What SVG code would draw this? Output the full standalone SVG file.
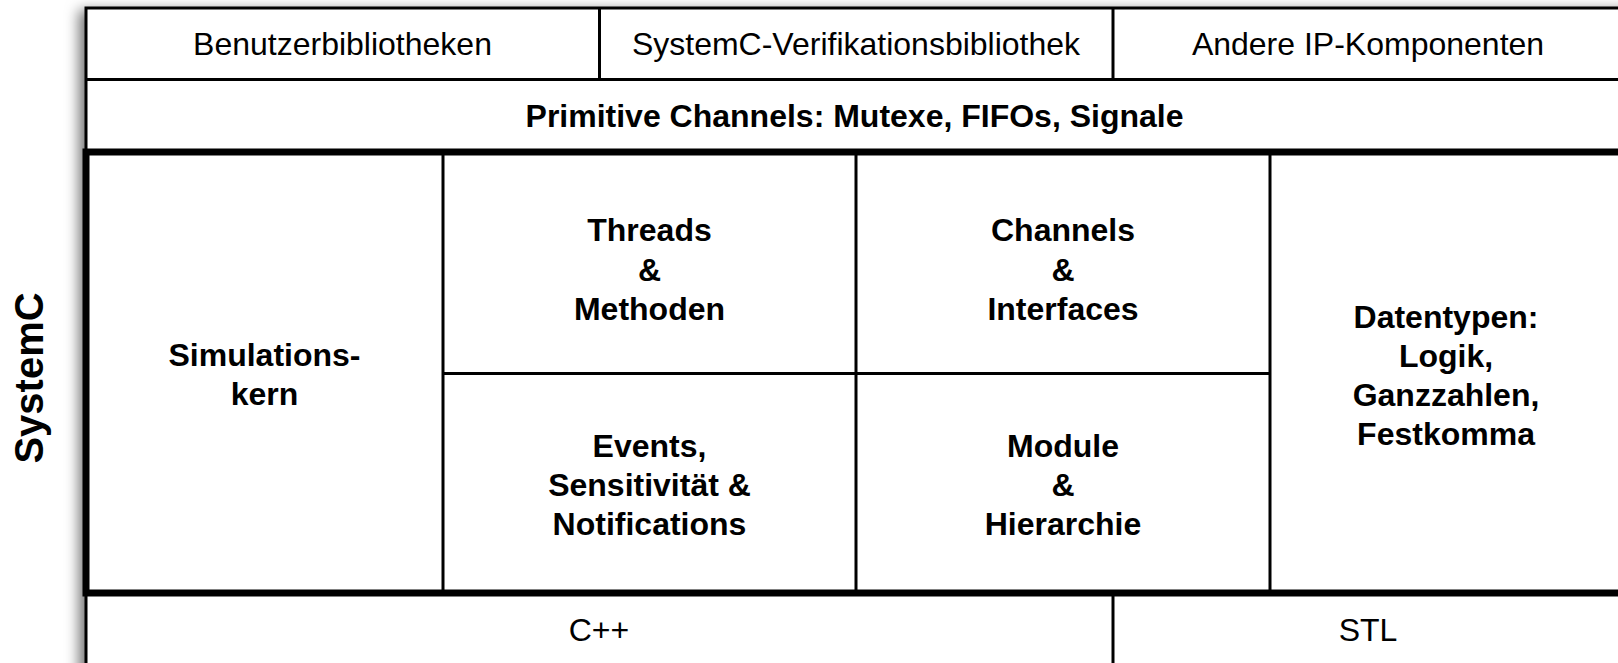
<svg xmlns="http://www.w3.org/2000/svg" width="1618" height="663" viewBox="0 0 1618 663">
<style>
.t{font-family:"Liberation Sans",Arial,sans-serif;font-size:32px;fill:#000;text-anchor:middle}
.b{font-weight:bold}
.thin{stroke:#000;stroke-width:3;fill:none}
.thick{stroke:#000;stroke-width:7;fill:none}
</style>
<defs>
<filter id="sh" x="-10%" y="-10%" width="120%" height="120%">
<feDropShadow dx="-7" dy="2" stdDeviation="7" flood-color="#000" flood-opacity="0.55"/>
</filter>
</defs>
<rect width="1618" height="663" fill="#fff"/>
<rect x="86" y="8" width="1560" height="680" fill="#fff" filter="url(#sh)"/>
<g id="connectors">
<rect class="thin" x="86" y="8" width="1560" height="680"/>
<line class="thin" x1="86" y1="79.5" x2="1640" y2="79.5"/>
<line class="thin" x1="599.5" y1="8" x2="599.5" y2="79.5"/>
<line class="thin" x1="1113" y1="8" x2="1113" y2="79.5"/>
<line class="thin" x1="443" y1="152" x2="443" y2="593"/>
<line class="thin" x1="856" y1="152" x2="856" y2="593"/>
<line class="thin" x1="1270" y1="152" x2="1270" y2="593"/>
<line class="thin" x1="443" y1="373.5" x2="1270" y2="373.5"/>
<line class="thin" x1="1113" y1="593" x2="1113" y2="670"/>
<rect class="thick" x="86" y="152" width="1560" height="441"/>
</g>
<g id="n-benutzer"><text class="t" x="342.5" y="55">Benutzerbibliotheken</text></g>
<g id="n-verif"><text class="t" x="856" y="55">SystemC-Verifikationsbibliothek</text></g>
<g id="n-ip"><text class="t" x="1368" y="55">Andere IP-Komponenten</text></g>
<g id="n-primitive"><text class="t b" x="854.5" y="127">Primitive Channels: Mutexe, FIFOs, Signale</text></g>
<g id="n-kern"><text class="t b" x="264.5" y="366">Simulations-</text><text class="t b" x="264.5" y="405">kern</text></g>
<g id="n-threads"><text class="t b" x="649.5" y="241">Threads</text><text class="t b" x="649.5" y="281">&amp;</text><text class="t b" x="649.5" y="320">Methoden</text></g>
<g id="n-channels"><text class="t b" x="1063" y="241">Channels</text><text class="t b" x="1063" y="281">&amp;</text><text class="t b" x="1063" y="320">Interfaces</text></g>
<g id="n-events"><text class="t b" x="649.5" y="457">Events,</text><text class="t b" x="649.5" y="496">Sensitivität &amp;</text><text class="t b" x="649.5" y="535">Notifications</text></g>
<g id="n-module"><text class="t b" x="1063" y="457">Module</text><text class="t b" x="1063" y="496">&amp;</text><text class="t b" x="1063" y="535">Hierarchie</text></g>
<g id="n-datentypen"><text class="t b" x="1446" y="328">Datentypen:</text><text class="t b" x="1446" y="367">Logik,</text><text class="t b" x="1446" y="406">Ganzzahlen,</text><text class="t b" x="1446" y="445">Festkomma</text></g>
<g id="n-cpp"><text class="t" x="599" y="641">C++</text></g>
<g id="n-stl"><text class="t" x="1368" y="641">STL</text></g>
<g id="n-systemc"><text class="t b" style="font-size:40px" transform="translate(43,378) rotate(-90)" x="0" y="0">SystemC</text></g>
</svg>
